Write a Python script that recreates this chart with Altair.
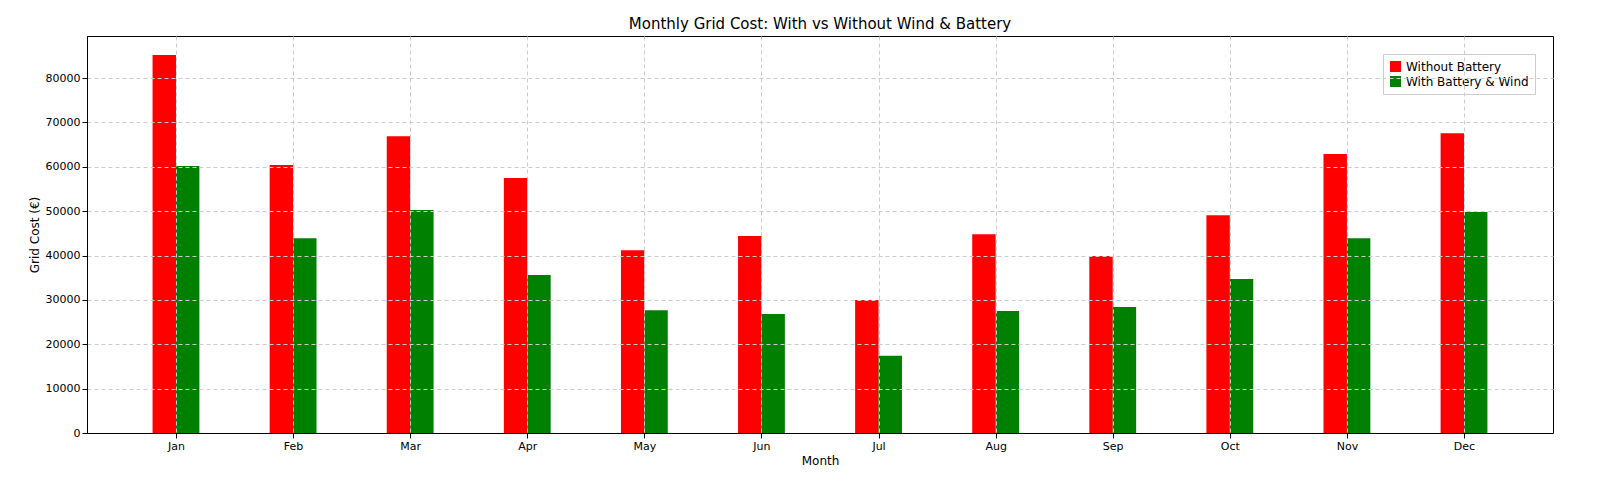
import altair as alt
import pandas as pd

months = ["Jan","Feb","Mar","Apr","May","Jun","Jul","Aug","Sep","Oct","Nov","Dec"]
without_battery = [85200,60400,66900,57500,41200,44400,30000,44800,39900,49100,62900,67600]
with_battery = [60200,43900,50300,35600,27700,26800,17400,27500,28400,34700,43900,49800]
series = ["Without Battery", "With Battery & Wind"]

rows = []
for i, m in enumerate(months):
    rows.append({"idx": i, "month": m, "series": series[0], "off": -0.2, "cost": without_battery[i]})
    rows.append({"idx": i, "month": m, "series": series[1], "off": 0.0, "cost": with_battery[i]})
df = pd.DataFrame(rows)

label_expr = "[" + ",".join(f"'{m}'" for m in months) + "][datum.value]"

chart = alt.Chart(df).transform_calculate(
    x0="datum.idx + datum.off", x1="datum.idx + datum.off + 0.2"
).mark_bar().encode(
    x=alt.X("x0:Q", scale=alt.Scale(domain=[-0.76, 11.76], nice=False, zero=False),
            axis=alt.Axis(values=list(range(12)), labelExpr=label_expr, title="Month",
                          grid=True, gridDash=[4, 3], gridColor="#cccccc", labelAngle=0, zindex=1)),
    x2="x1:Q",
    y=alt.Y("cost:Q", scale=alt.Scale(domain=[0, 89500], nice=False, padding=0),
            axis=alt.Axis(values=list(range(0, 90000, 10000)), title="Grid Cost (€)",
                          grid=True, gridDash=[4, 3], gridColor="#cccccc", format="d", zindex=1)),
    y2=alt.datum(0),
    color=alt.Color("series:N", scale=alt.Scale(domain=series, range=["red", "green"]),
                    sort=series,
                    legend=alt.Legend(title=None, orient="top-right", symbolType="square",
                                      fillColor="white", strokeColor="#cccccc", padding=6,
                                      labelFontSize=12, symbolSize=120)),
).properties(
    width=1466, height=397,
    title=alt.TitleParams("Monthly Grid Cost: With vs Without Wind & Battery", fontSize=15, fontWeight="normal"),
    autosize="none", padding={"left": 79, "top": 28, "right": 15, "bottom": 40},
).configure(font="DejaVu Sans").configure_axis(
    labelFontSize=11, titleFontSize=12, titleFontWeight="normal", domainColor="black",
    tickColor="black", labelColor="black"
).configure_view(stroke="black")

chart.save("out.html", embed_options={"renderer": "svg", "actions": False})
